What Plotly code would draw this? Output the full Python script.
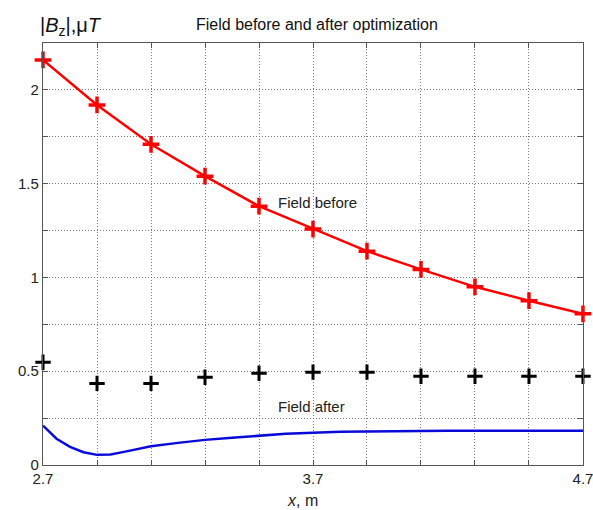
import plotly.graph_objects as go

x_markers = [2.7, 2.9, 3.1, 3.3, 3.5, 3.7, 3.9, 4.1, 4.3, 4.5, 4.7]
field_before = [2.16, 1.92, 1.71, 1.54, 1.38, 1.258, 1.14, 1.043, 0.95, 0.876, 0.806]
field_opt_points = [0.548, 0.435, 0.435, 0.468, 0.489, 0.495, 0.495, 0.473, 0.473, 0.473, 0.473]

x_after = [2.7, 2.75, 2.8, 2.85, 2.9, 2.95, 3.0, 3.05, 3.1, 3.2, 3.3, 3.4, 3.5, 3.6, 3.7,
           3.8, 3.9, 4.0, 4.1, 4.2, 4.3, 4.4, 4.5, 4.6, 4.7]
field_after = [0.21, 0.14, 0.097, 0.068, 0.054, 0.056, 0.07, 0.085, 0.10, 0.118, 0.134, 0.145,
               0.156, 0.167, 0.172, 0.177, 0.178, 0.18, 0.183, 0.183, 0.183, 0.183, 0.183, 0.183, 0.183]

x_grid = [2.7, 2.9, 3.1, 3.3, 3.5, 3.7, 3.9, 4.1, 4.3, 4.5, 4.7]
x_ticktext = ["2.7", "", "", "", "", "3.7", "", "", "", "", "4.7"]
y_grid = [0, 0.25, 0.5, 0.75, 1, 1.25, 1.5, 1.75, 2, 2.25]
y_ticktext = ["0", "", "0.5", "", "1", "", "1.5", "", "2", ""]

fig = go.Figure()
fig.add_trace(go.Scatter(x=x_after, y=field_after, mode="lines",
                         line=dict(color="#0a0ad8", width=2.5), showlegend=False))
fig.add_trace(go.Scatter(x=x_markers, y=field_before, mode="lines+markers",
                         line=dict(color="#ff0000", width=2.5),
                         marker=dict(symbol="cross-thin", size=12, color="#ff0000",
                                     line=dict(color="#ff0000", width=3.5)),
                         showlegend=False, cliponaxis=False))
fig.add_trace(go.Scatter(x=x_markers, y=field_opt_points, mode="markers",
                         marker=dict(symbol="cross-thin", size=11, color="black",
                                     line=dict(color="black", width=3)),
                         showlegend=False, cliponaxis=False))

font = "Arial, Liberation Sans, sans-serif"
axis_common = dict(showline=True, linecolor="#555555", linewidth=1.2, mirror="ticks",
                   ticks="inside", ticklen=5, tickcolor="#555555",
                   showgrid=True, gridcolor="#7a7a7a", griddash="1px,2px", gridwidth=1,
                   zeroline=False, ticklabeloverflow="allow", automargin=False,
                   tickfont=dict(family=font, size=15, color="#222222"))

fig.update_xaxes(range=[2.6999, 4.7001], tickmode="array", tickvals=x_grid, ticktext=x_ticktext,
                 **axis_common)
fig.update_yaxes(range=[0, 2.25], tickmode="array", tickvals=y_grid, ticktext=y_ticktext,
                 **axis_common)

fig.add_annotation(x=3.715, y=1.398, text="Field before", showarrow=False,
                   font=dict(family=font, size=15, color="#222222"))
fig.add_annotation(x=3.693, y=0.312, text="Field after", showarrow=False,
                   font=dict(family=font, size=15, color="#222222"))
fig.add_annotation(xref="paper", yref="paper", x=(302 - 43) / 540, y=-(511 - 465) / 422,
                   text="<i>x</i>, m", showarrow=False, xanchor="center", yanchor="bottom",
                   font=dict(family=font, size=16, color="#222222"))
fig.add_annotation(xref="paper", yref="paper", x=(38 - 43) / 540, y=(465 - 41) / 422,
                   text="|<i>B</i><sub>z</sub>|,μ<i>T</i>", showarrow=False,
                   xanchor="left", yanchor="bottom",
                   font=dict(family=font, size=20, color="#111111"))
fig.add_annotation(xref="paper", yref="paper", x=(194 - 43) / 540, y=(465 - 35) / 422,
                   text="Field before and after optimization", showarrow=False,
                   xanchor="left", yanchor="bottom",
                   font=dict(family=font, size=16, color="#111111"))

fig.update_layout(width=593, height=510, margin=dict(l=43, r=10, t=43, b=45, autoexpand=False),
                  plot_bgcolor="white", paper_bgcolor="white")

fig.write_html("out.html", config={"displayModeBar": False},
               post_script="document.body.style.margin='0';document.body.style.overflow='hidden';")
